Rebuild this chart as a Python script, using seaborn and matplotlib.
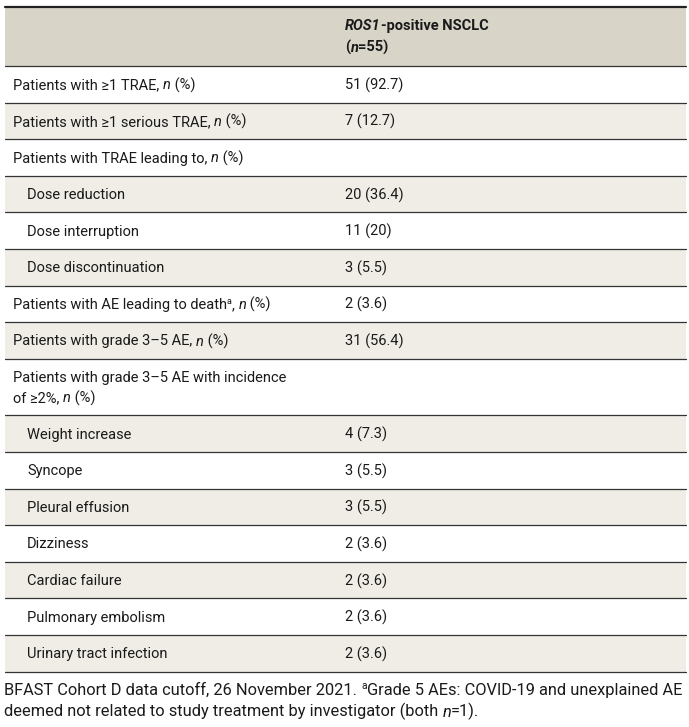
import re

import matplotlib.pyplot as plt
import seaborn as sns
from matplotlib import font_manager

sns.set_theme(style="white")

try:
    font_manager.findfont("Liberation Sans Narrow", fallback_to_default=False)
    FONT = "Liberation Sans Narrow"
except ValueError:
    FONT = "Roboto"
plt.rcParams["font.family"] = [FONT, "DejaVu Sans"]

OUTPUT_FIGURE_PATH = "out.png"

# table content; _x_ = italic, *x* = bold, ^x^ = superscript
header_lines = ["*_ROS1_-positive NSCLC*", "*(_n_=55)*"]
row_labels = [
    "Patients with ≥1 TRAE, _n_ (%)",
    "Patients with ≥1 serious TRAE, _n_ (%)",
    "Patients with TRAE leading to, _n_ (%)",
    "Dose reduction",
    "Dose interruption",
    "Dose discontinuation",
    "Patients with AE leading to death^a^, _n_ (%)",
    "Patients with grade 3–5 AE, _n_ (%)",
    "Patients with grade 3–5 AE with incidence\nof ≥2%, _n_ (%)",
    "Weight increase",
    "Syncope",
    "Pleural effusion",
    "Dizziness",
    "Cardiac failure",
    "Pulmonary embolism",
    "Urinary tract infection",
]
row_values = [
    "51 (92.7)", "7 (12.7)", "", "20 (36.4)", "11 (20)", "3 (5.5)", "2 (3.6)",
    "31 (56.4)", "", "4 (7.3)", "3 (5.5)", "3 (5.5)", "2 (3.6)", "2 (3.6)",
    "2 (3.6)", "2 (3.6)",
]
row_indent = [0, 0, 0, 1, 1, 1, 0, 0, 0, 1, 1, 1, 1, 1, 1, 1]
footnote_lines = [
    "BFAST Cohort D data cutoff, 26 November 2021. ^a^Grade 5 AEs: COVID-19 and unexplained AE",
    "deemed not related to study treatment by investigator (both _n_=1).",
]

HEADER_BG = "#d8d5c8"
STRIPE_BG = "#efede6"
TEXT_COLOR = "#1a1a1a"
FS = 10.5
FS_NOTE = 11.8


def draw_rich(ax, renderer, x, y, markup, size=FS, bold=False):
    """Draw text with _italic_, *bold* and ^superscript^ pieces on one baseline."""
    inv = ax.transData.inverted()
    for part in re.split(r"(\*[^*]+\*|_[^_]+_|\^[^^]+\^)", markup):
        if not part:
            continue
        if part.startswith("*"):
            x = draw_rich(ax, renderer, x, y, part[1:-1], size, bold=True)
            continue
        style, fs, dy, text = "normal", size, 0, part
        if part.startswith("_"):
            style, text = "italic", part[1:-1]
        elif part.startswith("^"):
            fs, dy, text = size * 0.62, -size * 0.48, part[1:-1]
        t = ax.text(x, y + dy, text, fontsize=fs, fontstyle=style,
                    fontweight="bold" if bold else "normal",
                    color=TEXT_COLOR, va="baseline", ha="left")
        bb = t.get_window_extent(renderer)
        x = inv.transform((bb.x1, bb.y0))[0]
    return x


def main():
    fig = plt.figure(figsize=(6.89, 7.27), dpi=100)
    ax = fig.add_axes([0, 0, 1, 1])
    ax.set_xlim(0, 689)
    ax.set_ylim(727, 0)
    ax.axis("off")
    renderer = fig.canvas.get_renderer()

    left, right = 5, 686
    col_x, pad, indent = 345, 13, 14
    top, header_h, row_h, line_gap = 7, 59, 36.6, 20

    # header
    ax.fill_between([left, right], top, top + header_h, color=HEADER_BG, lw=0)
    ax.plot([left, right], [top, top], color="#222222", lw=1.6)
    for i, line in enumerate(header_lines):
        draw_rich(ax, renderer, col_x, top + 23 + i * 22, line)

    y = top + header_h
    ax.plot([left, right], [y, y], color="#333333", lw=0.9)
    for i, (label, value, ind) in enumerate(zip(row_labels, row_values, row_indent)):
        lines = label.split("\n")
        h = row_h + (len(lines) - 1) * line_gap
        if i % 2 == 1:
            ax.fill_between([left, right], y, y + h, color=STRIPE_BG, lw=0)
        y0 = y + h / 2 - (len(lines) - 1) * line_gap / 2 + 5
        for k, line in enumerate(lines):
            draw_rich(ax, renderer, left + pad - 5 + ind * indent, y0 + k * line_gap, line)
        if value:
            draw_rich(ax, renderer, col_x, y0, value)
        y += h
        ax.plot([left, right], [y, y], color="#333333", lw=0.9)

    for k, line in enumerate(footnote_lines):
        draw_rich(ax, renderer, left - 1, y + 23 + k * 22, line, size=FS_NOTE)

    fig.savefig(OUTPUT_FIGURE_PATH, dpi=100)
    print(f"Saved figure to {OUTPUT_FIGURE_PATH}")


if __name__ == "__main__":
    main()
